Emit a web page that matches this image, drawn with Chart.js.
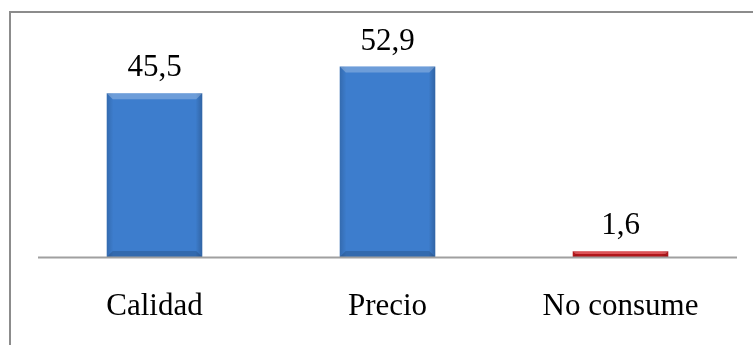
<!DOCTYPE html>
<html>
<head>
<meta charset="utf-8">
<script src="https://cdn.jsdelivr.net/npm/chart.js@4.4.0/dist/chart.umd.min.js"></script>
<style>
html,body{margin:0;padding:0;background:#fff}
#wrap{position:relative;width:753px;height:345px}
</style>
</head>
<body>
<div id="wrap"><canvas id="c" width="753" height="345"></canvas></div>
<script>
// ── data ──
const categories=['Calidad','Precio','No consume'];
const values=[45.5,52.9,1.6];
const barColors=['#3d7dcd','#3d7dcd','#d11a1f'];
const yMax=60;

const FONT='"Liberation Serif","Times New Roman",serif';
const fmtVal=v=>v.toFixed(1).replace('.',',');

// frame + axis line + bevel + value labels
const decor={
  id:'decor',
  beforeDraw(chart){
    const ctx=chart.ctx;
    ctx.save();
    ctx.strokeStyle='#8c8c8c';ctx.lineWidth=2;
    ctx.beginPath();ctx.moveTo(10,350);ctx.lineTo(10,12);ctx.lineTo(760,12);ctx.stroke();
    ctx.restore();
  },
  afterDatasetsDraw(chart){
    const ctx=chart.ctx,a=chart.chartArea;
    const meta=chart.getDatasetMeta(0);
    ctx.save();
    meta.data.forEach((bar,i)=>{
      const l=bar.x-bar.width/2,r=bar.x+bar.width/2,t=bar.y,b=bar.base;
      const h=b-t,bv=Math.min(6,h/2);
      // side shading
      const g=ctx.createLinearGradient(l,0,r,0);
      g.addColorStop(0,'rgba(0,0,0,0.15)');g.addColorStop(0.07,'rgba(0,0,0,0)');
      g.addColorStop(0.93,'rgba(0,0,0,0)');g.addColorStop(1,'rgba(0,0,0,0.2)');
      ctx.fillStyle=g;ctx.fillRect(l,t,r-l,h);
      // top bevel
      ctx.fillStyle='rgba(255,255,255,0.25)';
      ctx.beginPath();ctx.moveTo(l,t);ctx.lineTo(r,t);ctx.lineTo(r-bv,t+bv);ctx.lineTo(l+bv,t+bv);ctx.closePath();ctx.fill();
      // bottom bevel
      ctx.fillStyle='rgba(0,0,0,0.15)';
      ctx.beginPath();ctx.moveTo(l,b);ctx.lineTo(r,b);ctx.lineTo(r-bv,b-bv);ctx.lineTo(l+bv,b-bv);ctx.closePath();ctx.fill();
      // value label
      ctx.fillStyle='#000';ctx.font='31px '+FONT;ctx.textAlign='center';ctx.textBaseline='alphabetic';
      ctx.fillText(fmtVal(values[i]),bar.x,t-17);
    });
    // category axis line
    ctx.strokeStyle='#a0a0a0';ctx.lineWidth=2;
    ctx.beginPath();ctx.moveTo(a.left,a.bottom+0.5);ctx.lineTo(a.right,a.bottom+0.5);ctx.stroke();
    ctx.restore();
  }
};

new Chart(document.getElementById('c'),{
  type:'bar',
  data:{labels:categories,datasets:[{data:values,backgroundColor:barColors,borderWidth:0,barPercentage:0.41,categoryPercentage:1}]},
  options:{
    responsive:false,animation:false,
    layout:{padding:{left:38,right:16,top:41,bottom:0}},
    plugins:{legend:{display:false},tooltip:{enabled:false}},
    scales:{
      x:{grid:{display:false},border:{display:false},
        afterFit(s){s.height=88;},
        ticks:{color:'#000',padding:23,font:{family:FONT,size:31}}},
      y:{display:false,min:0,max:yMax}
    }
  },
  plugins:[decor]
});
</script>
</body>
</html>
